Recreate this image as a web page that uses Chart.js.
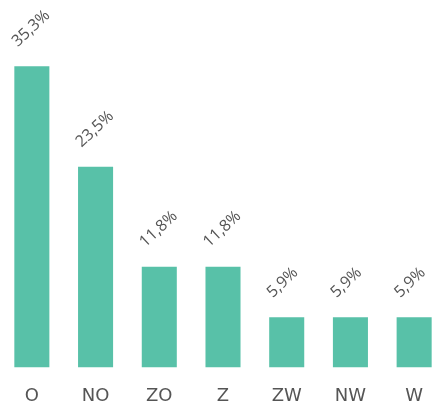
<!DOCTYPE html>
<html>
<head>
<meta charset="utf-8">
<script src="https://cdn.jsdelivr.net/npm/chart.js@4/dist/chart.umd.min.js"></script>
<style>
  html, body { margin: 0; padding: 0; background: #ffffff; overflow: hidden; }
  #wrap { width: 446px; height: 407px; }
</style>
</head>
<body>
<div id="wrap"><canvas id="c" width="446" height="407"></canvas></div>
<script>
const categories = ["O", "NO", "ZO", "Z", "ZW", "NW", "W"];
const values = [35.3, 23.5, 11.8, 11.8, 5.9, 5.9, 5.9];
const valueLabels = ["35,3%", "23,5%", "11,8%", "11,8%", "5,9%", "5,9%", "5,9%"];

const barLabelPlugin = {
  id: "barLabels",
  afterDatasetsDraw(chart) {
    const ctx = chart.ctx;
    const meta = chart.getDatasetMeta(0);
    ctx.save();
    ctx.font = "16px 'Open Sans', sans-serif";
    ctx.fillStyle = "#555555";
    ctx.textAlign = "left";
    ctx.textBaseline = "alphabetic";
    meta.data.forEach((bar, i) => {
      ctx.save();
      ctx.translate(bar.x - 14, bar.y - 19);
      ctx.rotate(-43 * Math.PI / 180);
      ctx.fillText(valueLabels[i], 0, 0);
      ctx.restore();
    });
    ctx.restore();
  }
};

new Chart(document.getElementById("c"), {
  type: "bar",
  data: {
    labels: categories,
    datasets: [{
      data: values,
      backgroundColor: "#58C1A8",
      borderWidth: 0,
      categoryPercentage: 1.0,
      barPercentage: 0.55
    }]
  },
  options: {
    responsive: false,
    animation: false,
    layout: { padding: { top: 26, bottom: 0, left: 0, right: 0 } },
    plugins: { legend: { display: false }, tooltip: { enabled: false } },
    scales: {
      y: { display: false, min: 0, max: 40 },
      x: {
        grid: { display: false, drawTicks: false },
        border: { display: false },
        afterFit(scale) { scale.height = 39.5; },
        ticks: {
          padding: 18,
          color: "#555555",
          font: { family: "'DejaVu Sans', sans-serif", size: 18, lineHeight: 1.2 }
        }
      }
    }
  },
  plugins: [barLabelPlugin]
});
</script>
</body>
</html>
